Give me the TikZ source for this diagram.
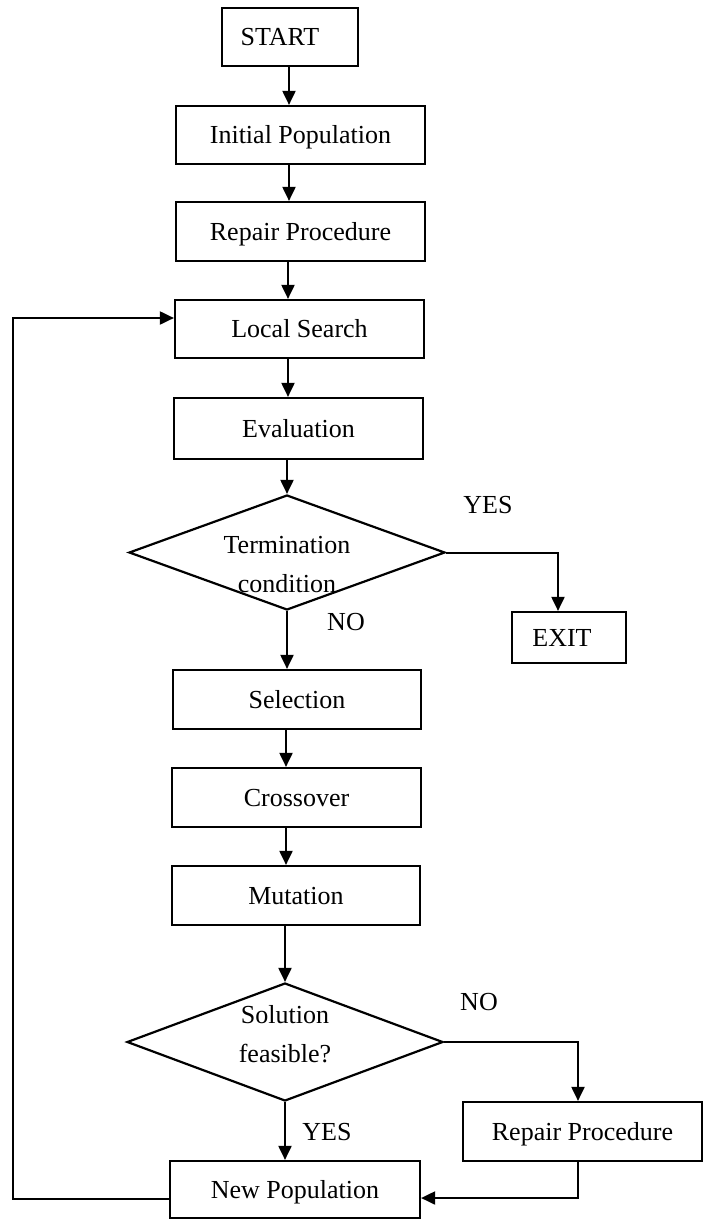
\documentclass[tikz,border=0pt]{standalone}
\usepackage{fontspec}
\setmainfont{Liberation Serif}
\usetikzlibrary{shapes.geometric,arrows.meta}
\begin{document}
\begin{tikzpicture}[x=0.5pt,y=-0.5pt,
  font=\fontsize{13}{19.5}\selectfont,
  stepbox/.style={draw, line width=1.1pt, inner sep=0pt, text height=8.6pt, text depth=0pt},
  decision/.style={draw, diamond, line width=1.1pt, inner sep=0pt},
  flow/.style={line width=1pt, -{Triangle[length=7pt,width=6.5pt]}},
  lbl/.style={inner sep=0pt, align=center}]
\useasboundingbox (0,0) rectangle (704,1220);

% main column of steps
\node[stepbox, minimum width=68pt,   minimum height=29pt]   (start)  at (290,37)      {\hspace*{-10pt}START};
\node[stepbox, minimum width=124.5pt,minimum height=29pt]   (init)   at (300.5,135)   {Initial Population};
\node[stepbox, minimum width=124.5pt,minimum height=29.5pt] (rep1)   at (300.5,231.5) {Repair Procedure};
\node[stepbox, minimum width=124.5pt,minimum height=29pt]   (local)  at (299.5,329)   {Local Search};
\node[stepbox, minimum width=124.5pt,minimum height=30.5pt] (eval)   at (298.5,428.5) {Evaluation};
\node[decision, minimum width=158pt, minimum height=57.5pt] (d1)     at (287,552.5)   {};
\node[lbl] (d1txt) at (287,565) {Termination\\condition};
\node[stepbox, minimum width=57pt,   minimum height=25.5pt] (exit)   at (569,637.5)   {\hspace*{-7pt}EXIT};
\node[stepbox, minimum width=124pt,  minimum height=29.5pt] (sel)    at (297,699.5)   {Selection};
\node[stepbox, minimum width=124.5pt,minimum height=29.5pt] (cross)  at (296.5,797.5) {Crossover};
\node[stepbox, minimum width=124pt,  minimum height=29.5pt] (mut)    at (296,895.5)   {Mutation};
\node[decision, minimum width=158pt, minimum height=59pt]   (d2)     at (285,1042)    {};
\node[lbl] (d2txt) at (285,1034) {Solution\\feasible?};
\node[stepbox, minimum width=119.5pt,minimum height=29.5pt] (rep2)   at (582.5,1131.5){Repair Procedure};
\node[stepbox, minimum width=125pt,  minimum height=28.5pt] (newpop) at (295,1189.5)  {New Population};

% branch labels
\node[lbl] (yes1) at (488,505)  {YES};
\node[lbl] (no1)  at (346,622)  {NO};
\node[lbl] (no2)  at (479,1002) {NO};
\node[lbl] (yes2) at (327,1132) {YES};

% connector columns and corners
\coordinate (ca) at (289,0);
\coordinate (cb) at (288,0);
\coordinate (cd) at (286,0);
\coordinate (cx) at (558,0);
\coordinate (cy) at (578,0);
\coordinate (rj) at (578,1198);
\coordinate (lb) at (13,1199);
\coordinate (lt) at (13,318);

\draw[flow] (start.south -| ca) -- (init.north -| ca);
\draw[flow] (init.south -| ca)  -- (rep1.north -| ca);
\draw[flow] (rep1.south -| cb)  -- (local.north -| cb);
\draw[flow] (local.south -| cb) -- (eval.north -| cb);
\draw[flow] (eval.south -| d1.north) -- (d1.north);
\draw[flow] (d1.east) -| (exit.north -| cx);
\draw[flow] (d1.south) -- (sel.north -| d1.south);
\draw[flow] (sel.south -| cd)   -- (cross.north -| cd);
\draw[flow] (cross.south -| cd) -- (mut.north -| cd);
\draw[flow] (mut.south -| d2.north) -- (d2.north);
\draw[flow] (d2.east) -| (rep2.north -| cy);
\draw[flow] (d2.south) -- (newpop.north -| d2.south);
\draw[flow] (rep2.south -| rj) -- (rj) -- (newpop.east |- rj);
\draw[flow] (newpop.west |- lb) -- (lb) -- (lt) -- (local.west |- lt);
\end{tikzpicture}
\end{document}
